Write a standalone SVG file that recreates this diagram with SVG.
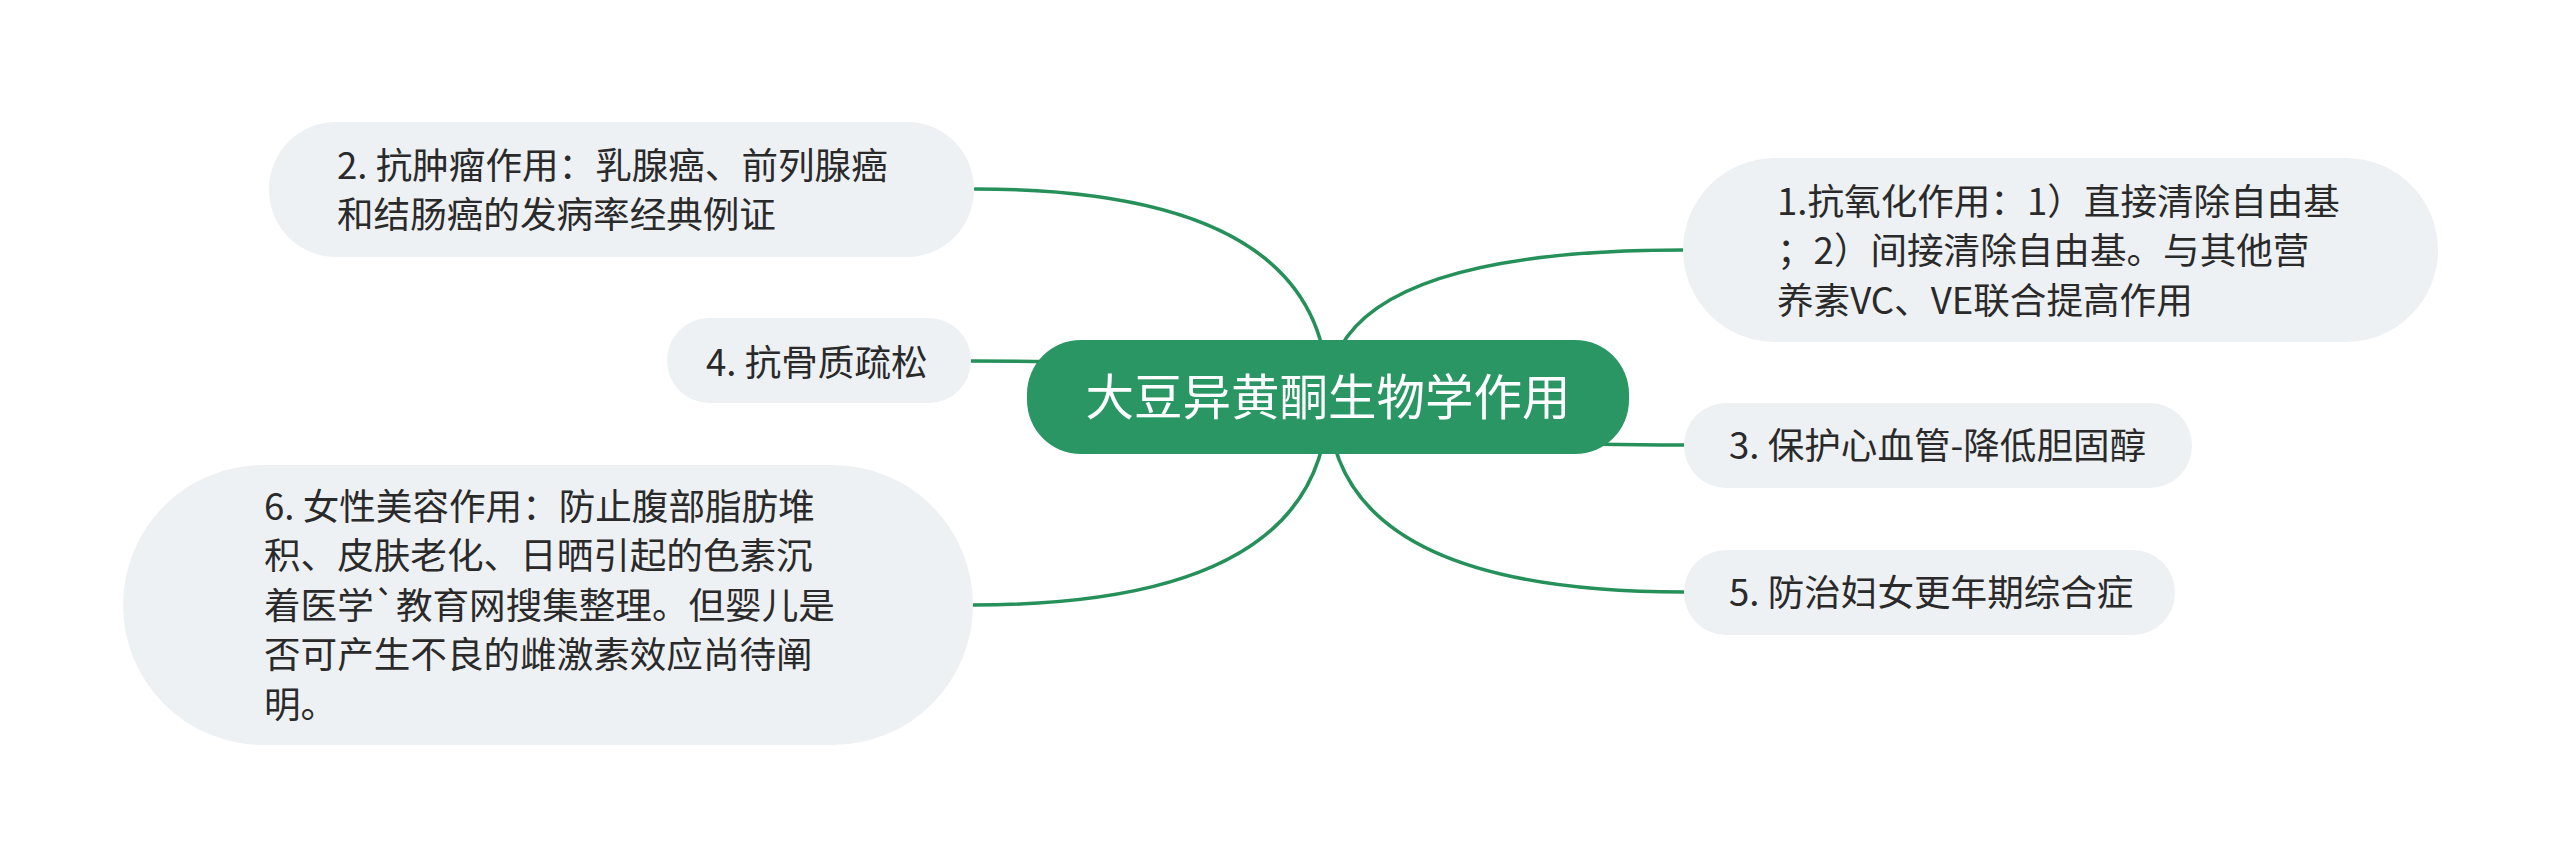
<svg xmlns="http://www.w3.org/2000/svg" width="2560" height="868" viewBox="0 0 2560 868">
<style>
.bg{fill:#ffffff}
.link{fill:none;stroke:#25905a;stroke-width:3.5;stroke-linecap:round}
.sub{fill:#eef1f4}
.root{fill:#299664}
.t{font-family:"Noto Sans CJK SC","Noto Sans",sans-serif;font-size:36.6px;fill:#2a2a2a}
.rt{font-family:"Noto Sans CJK SC","Noto Sans",sans-serif;font-size:48.5px;fill:#ffffff}
</style>
<rect class="bg" x="0" y="0" width="2560" height="868"/>
<g id="connectors">
<path class="link" d="M1328 397 Q1328 189 975 189"/>
<path class="link" d="M1328 397 Q1328 361 971 361"/>
<path class="link" d="M1328 397 Q1328 605 973 605"/>
<path class="link" d="M1328 397 Q1328 250 1683 250"/>
<path class="link" d="M1328 397 Q1328 445 1684 445"/>
<path class="link" d="M1328 397 Q1328 592 1684 592"/>
</g>
<g id="root">
<rect class="root" x="1027" y="340" width="602" height="114" rx="54"/>
<text class="rt" x="1328" y="415" text-anchor="middle">大豆异黄酮生物学作用</text>
</g>
<g id="node2">
<rect class="sub" x="269" y="122" width="705" height="135" rx="67"/>
<text class="t" x="337" y="178.5">2. 抗肿瘤作用：乳腺癌、前列腺癌</text>
<text class="t" x="337" y="228">和结肠癌的发病率经典例证</text>
</g>
<g id="node4">
<rect class="sub" x="667" y="318" width="304" height="85" rx="42"/>
<text class="t" x="706" y="376">4. 抗骨质疏松</text>
</g>
<g id="node6">
<rect class="sub" x="123" y="465" width="850" height="280" rx="140"/>
<text class="t" x="264" y="519.7">6. 女性美容作用：防止腹部脂肪堆</text>
<text class="t" x="264" y="569.2">积、皮肤老化、日晒引起的色素沉</text>
<text class="t" x="264" y="618.7">着医学`教育网搜集整理。但婴儿是</text>
<text class="t" x="264" y="668.2">否可产生不良的雌激素效应尚待阐</text>
<text class="t" x="264" y="717.7">明。</text>
</g>
<g id="node1">
<rect class="sub" x="1683" y="158" width="755" height="184" rx="92"/>
<text class="t" x="1777" y="214.5">1.抗氧化作用：1）直接清除自由基</text>
<text class="t" x="1777" y="264">；2）间接清除自由基。与其他营</text>
<text class="t" x="1777" y="313.5">养素VC、VE联合提高作用</text>
</g>
<g id="node3">
<rect class="sub" x="1684" y="403" width="508" height="85" rx="42"/>
<text class="t" x="1729" y="459">3. 保护心血管-降低胆固醇</text>
</g>
<g id="node5">
<rect class="sub" x="1684" y="550" width="491" height="85" rx="42"/>
<text class="t" x="1729" y="606">5. 防治妇女更年期综合症</text>
</g>
</svg>
